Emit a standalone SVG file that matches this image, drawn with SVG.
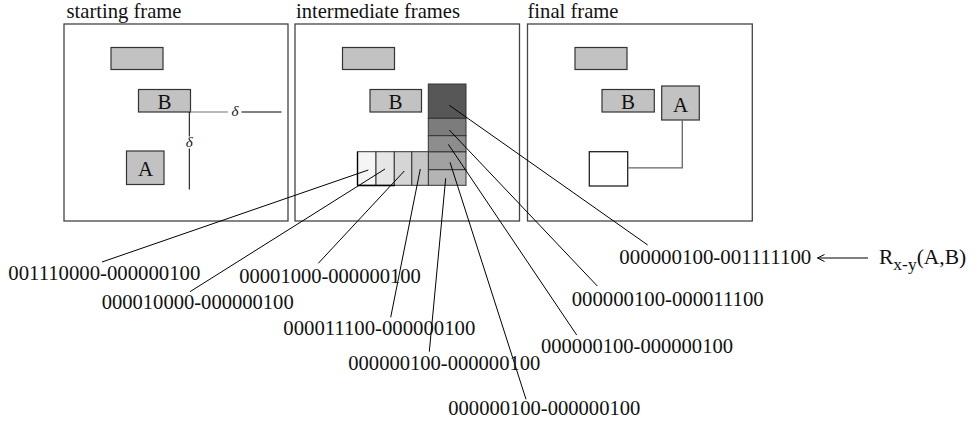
<svg xmlns="http://www.w3.org/2000/svg" width="980" height="423" viewBox="0 0 980 423" font-family="'Liberation Serif', 'Times New Roman', serif">
  <defs>
    <marker id="openHead" markerWidth="10" markerHeight="10" refX="8" refY="5" orient="auto" markerUnits="userSpaceOnUse">
      <polyline points="1,1.5 8,5 1,8.5" fill="none" stroke="#000" stroke-width="1"/>
    </marker>
  </defs>
  <style>
    text { font-family: "Liberation Serif", "Times New Roman", serif; fill: #111; }
    .title { font-size: 20.6px; }
    .code { font-size: 21.5px; }
    .boxtxt { font-size: 21px; text-anchor: middle; }
    .delta { font-size: 15px; font-style: italic; text-anchor: middle; }
    .frame { fill: #fff; stroke: #444; stroke-width: 1.3; }
    .box { fill: #c2c2c2; stroke: #333; stroke-width: 1.2; }
    .cell { stroke: #333; stroke-width: 1; }
    .lead { stroke: #000; stroke-width: 1; fill: none; }
  </style>

  <!-- frame titles -->
  <text class="title" x="66.5" y="17.5" textLength="115" lengthAdjust="spacingAndGlyphs">starting frame</text>
  <text class="title" x="296" y="17.5" textLength="164" lengthAdjust="spacingAndGlyphs">intermediate frames</text>
  <text class="title" x="527.5" y="17.5" textLength="91" lengthAdjust="spacingAndGlyphs">final frame</text>

  <!-- starting frame -->
  <g id="frame-start">
    <rect class="frame" x="64" y="24" width="224" height="197"/>
    <rect class="box" x="111" y="47.5" width="52" height="22"/>
    <g id="start-B">
      <rect class="box" x="138.5" y="89.5" width="52" height="22.5"/>
      <text class="boxtxt" x="164.5" y="109">B</text>
    </g>
    <g id="start-A">
      <rect class="box" x="126.5" y="151" width="37.5" height="33.5"/>
      <text class="boxtxt" x="145.5" y="176">A</text>
    </g>
    <!-- delta distances -->
    <line x1="190.3" y1="112" x2="228" y2="112" stroke="#777" stroke-width="1.2"/>
    <line x1="241.5" y1="112" x2="281.5" y2="112" stroke="#000" stroke-width="1"/>
    <text class="delta" x="235" y="116">δ</text>
    <line x1="189.3" y1="112" x2="189.3" y2="136.5" stroke="#000" stroke-width="1"/>
    <line x1="189.3" y1="148.5" x2="189.3" y2="189.5" stroke="#000" stroke-width="1"/>
    <text class="delta" x="189.3" y="147">δ</text>
  </g>

  <!-- intermediate frames -->
  <g id="frame-mid">
    <rect class="frame" x="295" y="24" width="224.5" height="197"/>
    <rect class="box" x="342.5" y="47.5" width="52" height="22" stroke="#555"/>
    <g id="mid-B">
      <rect class="box" x="370" y="89.5" width="51.5" height="22.5" stroke="#666"/>
      <text class="boxtxt" x="395.5" y="109">B</text>
    </g>
    <!-- vertical sweep -->
    <rect class="cell" x="428.3" y="84" width="37.7" height="34.3" fill="#575757"/>
    <rect class="cell" x="428.3" y="118.3" width="37.7" height="17.4" fill="#7c7c7c"/>
    <rect class="cell" x="428.3" y="135.7" width="37.7" height="16.2" fill="#8d8d8d"/>
    <rect class="cell" x="428.3" y="151.9" width="37.7" height="17.8" fill="#a1a1a1"/>
    <rect class="cell" x="428.3" y="169.7" width="37.7" height="15.6" fill="#b4b4b4"/>
    <!-- horizontal sweep -->
    <rect class="cell" x="357.5" y="151.7" width="18.5" height="33.6" fill="#f5f5f5"/>
    <rect class="cell" x="376" y="151.7" width="18.3" height="33.6" fill="#e6e6e6"/>
    <rect class="cell" x="394.3" y="151.7" width="17.5" height="33.6" fill="#d5d5d5"/>
    <rect class="cell" x="411.8" y="151.7" width="16.5" height="33.6" fill="#c6c6c6"/>
    <line x1="357.5" y1="151.7" x2="357.5" y2="185.3" stroke="#000" stroke-width="1.4"/>
    <line x1="357.5" y1="185.5" x2="395" y2="185.5" stroke="#000" stroke-width="1.4"/>
  </g>

  <!-- final frame -->
  <g id="frame-final">
    <rect class="frame" x="527.5" y="24" width="224.8" height="197"/>
    <rect class="box" x="575" y="47.5" width="52" height="22"/>
    <g id="final-B">
      <rect class="box" x="602" y="89.5" width="52.3" height="22.5"/>
      <text class="boxtxt" x="628" y="109">B</text>
    </g>
    <g id="final-A">
      <rect class="box" x="661.7" y="86" width="37.6" height="34"/>
      <text class="boxtxt" x="680.5" y="112">A</text>
    </g>
    <g id="final-empty">
      <rect x="589.3" y="151.7" width="38.4" height="34.3" fill="#fff" stroke="#222" stroke-width="1.3"/>
    </g>
    <polyline points="682.3,120 682.3,167.8 627.7,167.8" fill="none" stroke="#666" stroke-width="1.3"/>
  </g>

  <!-- leader lines from each cell to its code -->
  <g id="connectors">
    <line class="lead" x1="102" y1="262" x2="368.3" y2="170"/>
    <line class="lead" x1="190" y1="291.7" x2="385" y2="169"/>
    <line class="lead" x1="318.3" y1="263.3" x2="404.3" y2="171"/>
    <line class="lead" x1="390.7" y1="317.3" x2="420.3" y2="169"/>
    <line class="lead" x1="429.3" y1="351.7" x2="445.7" y2="178.3"/>
    <line class="lead" x1="526" y1="399.3" x2="450" y2="162.3"/>
    <line class="lead" x1="576.7" y1="335" x2="448.3" y2="144.3"/>
    <line class="lead" x1="597.3" y1="286" x2="449.3" y2="130"/>
    <line class="lead" x1="647.7" y1="245" x2="449.3" y2="105.3"/>
    <line class="lead" x1="868" y1="258" x2="817.5" y2="258" marker-end="url(#openHead)"/>
  </g>

  <!-- codes -->
  <g id="codes">
    <text class="code" x="8.3" y="279.5" textLength="192" lengthAdjust="spacingAndGlyphs">001110000-000000100</text>
    <text class="code" x="101.7" y="309" textLength="192" lengthAdjust="spacingAndGlyphs">000010000-000000100</text>
    <text class="code" x="239.3" y="282.5" textLength="181.5" lengthAdjust="spacingAndGlyphs">00001000-000000100</text>
    <text class="code" x="283.3" y="335" textLength="192" lengthAdjust="spacingAndGlyphs">000011100-000000100</text>
    <text class="code" x="348.3" y="369.5" textLength="192" lengthAdjust="spacingAndGlyphs">000000100-000000100</text>
    <text class="code" x="448.3" y="414.5" textLength="192" lengthAdjust="spacingAndGlyphs">000000100-000000100</text>
    <text class="code" x="541" y="353" textLength="192" lengthAdjust="spacingAndGlyphs">000000100-000000100</text>
    <text class="code" x="571.7" y="306" textLength="192" lengthAdjust="spacingAndGlyphs">000000100-000011100</text>
    <text class="code" x="619.3" y="264" textLength="192" lengthAdjust="spacingAndGlyphs">000000100-001111100</text>
    <text class="code" x="879" y="264">R<tspan dy="6" font-size="17.5px">x-y</tspan><tspan dy="-6">(A,B)</tspan></text>
  </g>
</svg>
